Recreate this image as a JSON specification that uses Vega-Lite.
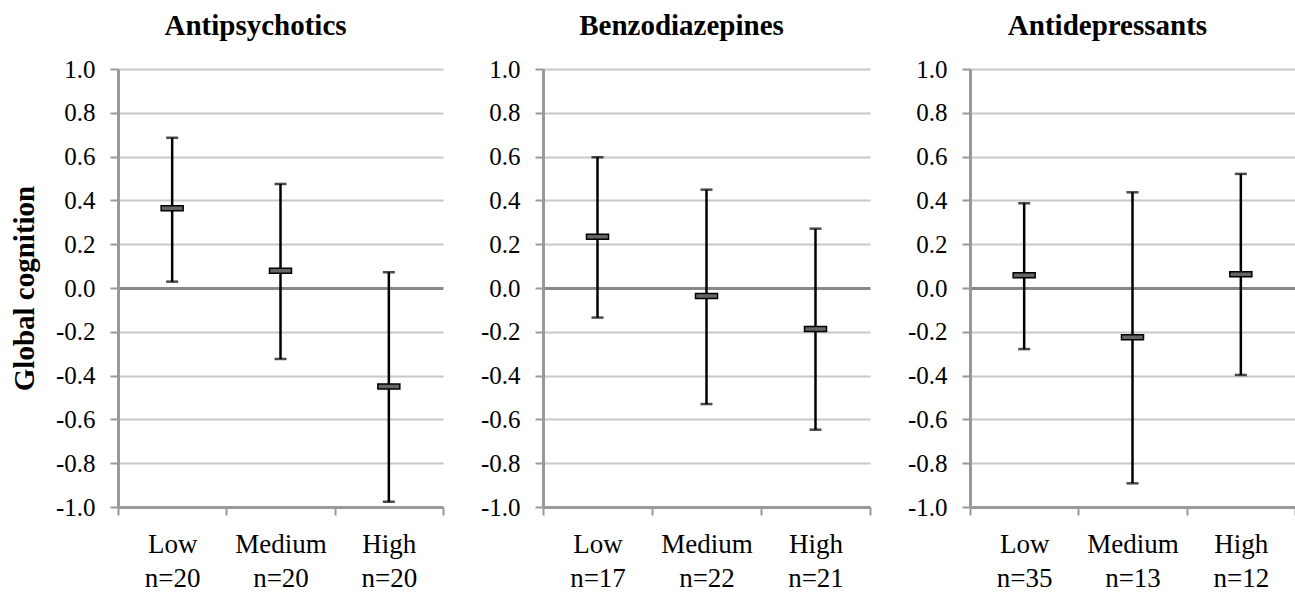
{
  "$schema": "https://vega.github.io/schema/vega-lite/v6.json",
  "background": "white",
  "padding": {"left": 10, "top": 12, "right": 0, "bottom": 0},
  "config": {
    "font": "'Liberation Serif', 'Times New Roman', Times, serif",
    "view": {"stroke": null},
    "title": {"font": "'Liberation Serif', 'Times New Roman', Times, serif", "fontSize": 29, "fontWeight": "bold", "color": "black", "offset": 16, "dx": -25},
    "axis": {"labelFont": "'Liberation Serif', 'Times New Roman', Times, serif", "titleFont": "'Liberation Serif', 'Times New Roman', Times, serif", "labelColor": "black", "titleColor": "black"}
  },
  "data": {"values": [
    {"drug": "Antipsychotics", "cat": "Low|n=20", "mean": 0.364, "lo": 0.029, "hi": 0.686},
    {"drug": "Antipsychotics", "cat": "Medium|n=20", "mean": 0.079, "lo": -0.324, "hi": 0.475},
    {"drug": "Antipsychotics", "cat": "High|n=20", "mean": -0.45, "lo": -0.976, "hi": 0.072},
    {"drug": "Benzodiazepines", "cat": "Low|n=17", "mean": 0.234, "lo": -0.135, "hi": 0.597},
    {"drug": "Benzodiazepines", "cat": "Medium|n=22", "mean": -0.036, "lo": -0.53, "hi": 0.449},
    {"drug": "Benzodiazepines", "cat": "High|n=21", "mean": -0.187, "lo": -0.647, "hi": 0.271},
    {"drug": "Antidepressants", "cat": "Low|n=35", "mean": 0.058, "lo": -0.279, "hi": 0.387},
    {"drug": "Antidepressants", "cat": "Medium|n=13", "mean": -0.225, "lo": -0.892, "hi": 0.437},
    {"drug": "Antidepressants", "cat": "High|n=12", "mean": 0.063, "lo": -0.397, "hi": 0.521}
  ]},
  "spacing": 36,
  "hconcat": [
    {
      "title": "Antipsychotics",
      "width": 325, "height": 438,
      "transform": [{"filter": "datum.drug === 'Antipsychotics'"}],
      "encoding": {
        "x": {"field": "cat", "type": "nominal", "sort": null, "title": null,
          "scale": {"paddingInner": 0, "paddingOuter": 0},
          "axis": {"labelExpr": "datum.value ? split(datum.value, '|') : ''", "labelAngle": 0, "labelFontSize": 27, "labelLineHeight": 34, "labelPadding": 16, "tickBand": "extent", "tickSize": 8, "tickColor": "#999", "tickWidth": 2, "domainColor": "#999", "domainWidth": 3, "grid": false}}
      },
      "layer": [
        {"mark": {"type": "rule", "color": "black", "strokeWidth": 2.5},
         "encoding": {"y": {"field": "lo", "type": "quantitative", "title": "Global cognition",
           "scale": {"domain": [-1, 1], "nice": false, "zero": false},
           "axis": {"values": [-1, -0.8, -0.6, -0.4, -0.2, 0, 0.2, 0.4, 0.6, 0.8, 1], "labelExpr": "datum.value < 0 ? '-' + format(-datum.value, '.1f') : format(datum.value, '.1f')", "labelFontSize": 25, "labelPadding": 15, "tickSize": 8, "tickColor": "#999", "tickWidth": 2, "domainColor": "#999", "domainWidth": 3, "gridColor": {"condition": {"test": "datum.value === 0", "value": "#888"}, "value": "#c8c8c8"}, "gridWidth": {"condition": {"test": "datum.value === 0", "value": 3}, "value": 2}, "titleFontSize": 29, "titleFontWeight": "bold", "titlePadding": 16}},
           "y2": {"field": "hi"}}},
        {"mark": {"type": "tick", "color": "black", "size": 12, "thickness": 2.5}, "encoding": {"y": {"field": "lo", "type": "quantitative"}}},
        {"mark": {"type": "tick", "color": "black", "size": 12, "thickness": 2.5}, "encoding": {"y": {"field": "hi", "type": "quantitative"}}},
        {"mark": {"type": "tick", "fill": "#666", "fillOpacity": 1, "stroke": "black", "strokeWidth": 1.5, "size": 22, "thickness": 5}, "encoding": {"y": {"field": "mean", "type": "quantitative"}}}
      ]
    },
    {
      "title": "Benzodiazepines",
      "width": 327, "height": 438,
      "transform": [{"filter": "datum.drug === 'Benzodiazepines'"}],
      "encoding": {
        "x": {"field": "cat", "type": "nominal", "sort": null, "title": null,
          "scale": {"paddingInner": 0, "paddingOuter": 0},
          "axis": {"labelExpr": "datum.value ? split(datum.value, '|') : ''", "labelAngle": 0, "labelFontSize": 27, "labelLineHeight": 34, "labelPadding": 16, "tickBand": "extent", "tickSize": 8, "tickColor": "#999", "tickWidth": 2, "domainColor": "#999", "domainWidth": 3, "grid": false}}
      },
      "layer": [
        {"mark": {"type": "rule", "color": "black", "strokeWidth": 2.5},
         "encoding": {"y": {"field": "lo", "type": "quantitative", "title": null,
           "scale": {"domain": [-1, 1], "nice": false, "zero": false},
           "axis": {"values": [-1, -0.8, -0.6, -0.4, -0.2, 0, 0.2, 0.4, 0.6, 0.8, 1], "labelExpr": "datum.value < 0 ? '-' + format(-datum.value, '.1f') : format(datum.value, '.1f')", "labelFontSize": 25, "labelPadding": 15, "tickSize": 8, "tickColor": "#999", "tickWidth": 2, "domainColor": "#999", "domainWidth": 3, "gridColor": {"condition": {"test": "datum.value === 0", "value": "#888"}, "value": "#c8c8c8"}, "gridWidth": {"condition": {"test": "datum.value === 0", "value": 3}, "value": 2}}},
           "y2": {"field": "hi"}}},
        {"mark": {"type": "tick", "color": "black", "size": 12, "thickness": 2.5}, "encoding": {"y": {"field": "lo", "type": "quantitative"}}},
        {"mark": {"type": "tick", "color": "black", "size": 12, "thickness": 2.5}, "encoding": {"y": {"field": "hi", "type": "quantitative"}}},
        {"mark": {"type": "tick", "fill": "#666", "fillOpacity": 1, "stroke": "black", "strokeWidth": 1.5, "size": 22, "thickness": 5}, "encoding": {"y": {"field": "mean", "type": "quantitative"}}}
      ]
    },
    {
      "title": "Antidepressants",
      "width": 325, "height": 438,
      "transform": [{"filter": "datum.drug === 'Antidepressants'"}],
      "encoding": {
        "x": {"field": "cat", "type": "nominal", "sort": null, "title": null,
          "scale": {"paddingInner": 0, "paddingOuter": 0},
          "axis": {"labelExpr": "datum.value ? split(datum.value, '|') : ''", "labelAngle": 0, "labelFontSize": 27, "labelLineHeight": 34, "labelPadding": 16, "tickBand": "extent", "tickSize": 8, "tickColor": "#999", "tickWidth": 2, "domainColor": "#999", "domainWidth": 3, "grid": false}}
      },
      "layer": [
        {"mark": {"type": "rule", "color": "black", "strokeWidth": 2.5},
         "encoding": {"y": {"field": "lo", "type": "quantitative", "title": null,
           "scale": {"domain": [-1, 1], "nice": false, "zero": false},
           "axis": {"values": [-1, -0.8, -0.6, -0.4, -0.2, 0, 0.2, 0.4, 0.6, 0.8, 1], "labelExpr": "datum.value < 0 ? '-' + format(-datum.value, '.1f') : format(datum.value, '.1f')", "labelFontSize": 25, "labelPadding": 15, "tickSize": 8, "tickColor": "#999", "tickWidth": 2, "domainColor": "#999", "domainWidth": 3, "gridColor": {"condition": {"test": "datum.value === 0", "value": "#888"}, "value": "#c8c8c8"}, "gridWidth": {"condition": {"test": "datum.value === 0", "value": 3}, "value": 2}}},
           "y2": {"field": "hi"}}},
        {"mark": {"type": "tick", "color": "black", "size": 12, "thickness": 2.5}, "encoding": {"y": {"field": "lo", "type": "quantitative"}}},
        {"mark": {"type": "tick", "color": "black", "size": 12, "thickness": 2.5}, "encoding": {"y": {"field": "hi", "type": "quantitative"}}},
        {"mark": {"type": "tick", "fill": "#666", "fillOpacity": 1, "stroke": "black", "strokeWidth": 1.5, "size": 22, "thickness": 5}, "encoding": {"y": {"field": "mean", "type": "quantitative"}}}
      ]
    }
  ]
}
